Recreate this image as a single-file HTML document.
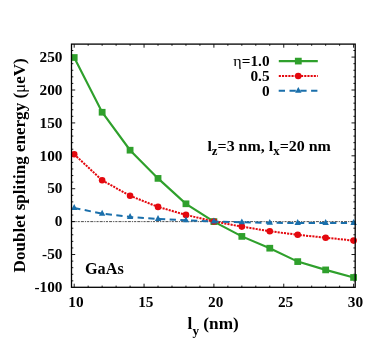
<!DOCTYPE html>
<html><head><meta charset="utf-8"><title>plot</title>
<style>html,body{margin:0;padding:0;background:#fff}svg{display:block;will-change:transform}text{font-family:"Liberation Serif",serif;font-weight:bold;fill:#000}</style></head><body>
<svg width="382" height="347" viewBox="0 0 382 347">
<rect width="382" height="347" fill="#fff"/>
<line x1="71.5" y1="221.62" x2="355.2" y2="221.62" stroke="#3a3a3a" stroke-width="0.9" stroke-dasharray="3 1 1.2 1 2.1 1.1"/>
<path d="M74.20 287.3v-3.6M74.20 44.1v3.6M88.17 287.3v-1.7M88.17 44.1v1.7M102.14 287.3v-1.7M102.14 44.1v1.7M116.11 287.3v-1.7M116.11 44.1v1.7M130.08 287.3v-1.7M130.08 44.1v1.7M144.05 287.3v-3.6M144.05 44.1v3.6M158.02 287.3v-1.7M158.02 44.1v1.7M171.99 287.3v-1.7M171.99 44.1v1.7M185.96 287.3v-1.7M185.96 44.1v1.7M199.93 287.3v-1.7M199.93 44.1v1.7M213.90 287.3v-3.6M213.90 44.1v3.6M227.87 287.3v-1.7M227.87 44.1v1.7M241.84 287.3v-1.7M241.84 44.1v1.7M255.81 287.3v-1.7M255.81 44.1v1.7M269.78 287.3v-1.7M269.78 44.1v1.7M283.75 287.3v-3.6M283.75 44.1v3.6M297.72 287.3v-1.7M297.72 44.1v1.7M311.69 287.3v-1.7M311.69 44.1v1.7M325.66 287.3v-1.7M325.66 44.1v1.7M339.63 287.3v-1.7M339.63 44.1v1.7M353.60 287.3v-3.6M353.60 44.1v3.6M71.5 280.85h1.8M355.2 280.85h-1.8M71.5 274.27h1.8M355.2 274.27h-1.8M71.5 267.69h1.8M355.2 267.69h-1.8M71.5 261.11h1.8M355.2 261.11h-1.8M71.5 254.53h3.7M355.2 254.53h-3.7M71.5 247.94h1.8M355.2 247.94h-1.8M71.5 241.36h1.8M355.2 241.36h-1.8M71.5 234.78h1.8M355.2 234.78h-1.8M71.5 228.20h1.8M355.2 228.20h-1.8M71.5 221.62h3.7M355.2 221.62h-3.7M71.5 215.04h1.8M355.2 215.04h-1.8M71.5 208.46h1.8M355.2 208.46h-1.8M71.5 201.88h1.8M355.2 201.88h-1.8M71.5 195.30h1.8M355.2 195.30h-1.8M71.5 188.72h3.7M355.2 188.72h-3.7M71.5 182.13h1.8M355.2 182.13h-1.8M71.5 175.55h1.8M355.2 175.55h-1.8M71.5 168.97h1.8M355.2 168.97h-1.8M71.5 162.39h1.8M355.2 162.39h-1.8M71.5 155.81h3.7M355.2 155.81h-3.7M71.5 149.23h1.8M355.2 149.23h-1.8M71.5 142.65h1.8M355.2 142.65h-1.8M71.5 136.07h1.8M355.2 136.07h-1.8M71.5 129.49h1.8M355.2 129.49h-1.8M71.5 122.91h3.7M355.2 122.91h-3.7M71.5 116.32h1.8M355.2 116.32h-1.8M71.5 109.74h1.8M355.2 109.74h-1.8M71.5 103.16h1.8M355.2 103.16h-1.8M71.5 96.58h1.8M355.2 96.58h-1.8M71.5 90.00h3.7M355.2 90.00h-3.7M71.5 83.42h1.8M355.2 83.42h-1.8M71.5 76.84h1.8M355.2 76.84h-1.8M71.5 70.26h1.8M355.2 70.26h-1.8M71.5 63.68h1.8M355.2 63.68h-1.8M71.5 57.09h3.7M355.2 57.09h-3.7M71.5 50.51h1.8M355.2 50.51h-1.8" stroke="#000" stroke-width="0.9" fill="none"/>
<clipPath id="c"><rect x="70.75" y="39.1" width="289.7" height="253.20000000000002"/></clipPath>
<g clip-path="url(#c)">
<polyline points="74.20,57.50 102.14,112.25 130.08,150.20 158.02,178.40 185.96,203.80 213.90,221.60 241.84,236.40 269.78,248.20 297.72,261.60 325.66,269.90 353.60,277.45" fill="none" stroke="#2fa02c" stroke-width="2.15"/>
<rect x="70.80" y="54.15" width="6.8" height="6.7" fill="#2fa02c"/>
<rect x="98.74" y="108.90" width="6.8" height="6.7" fill="#2fa02c"/>
<rect x="126.68" y="146.85" width="6.8" height="6.7" fill="#2fa02c"/>
<rect x="154.62" y="175.05" width="6.8" height="6.7" fill="#2fa02c"/>
<rect x="182.56" y="200.45" width="6.8" height="6.7" fill="#2fa02c"/>
<rect x="210.50" y="218.25" width="6.8" height="6.7" fill="#2fa02c"/>
<rect x="238.44" y="233.05" width="6.8" height="6.7" fill="#2fa02c"/>
<rect x="266.38" y="244.85" width="6.8" height="6.7" fill="#2fa02c"/>
<rect x="294.32" y="258.25" width="6.8" height="6.7" fill="#2fa02c"/>
<rect x="322.26" y="266.55" width="6.8" height="6.7" fill="#2fa02c"/>
<rect x="350.20" y="274.10" width="6.8" height="6.7" fill="#2fa02c"/>
<polyline points="74.20,154.30 102.14,180.30 130.08,195.80 158.02,206.90 185.96,214.90 213.90,221.50 241.84,226.60 269.78,231.20 297.72,234.80 325.66,237.70 353.60,240.60" fill="none" stroke="#e4080e" stroke-width="2" stroke-dasharray="2.1 1.08"/>
<circle cx="74.20" cy="154.30" r="3.3" fill="#e4080e"/>
<circle cx="102.14" cy="180.30" r="3.3" fill="#e4080e"/>
<circle cx="130.08" cy="195.80" r="3.3" fill="#e4080e"/>
<circle cx="158.02" cy="206.90" r="3.3" fill="#e4080e"/>
<circle cx="185.96" cy="214.90" r="3.3" fill="#e4080e"/>
<circle cx="213.90" cy="221.50" r="3.3" fill="#e4080e"/>
<circle cx="241.84" cy="226.60" r="3.3" fill="#e4080e"/>
<circle cx="269.78" cy="231.20" r="3.3" fill="#e4080e"/>
<circle cx="297.72" cy="234.80" r="3.3" fill="#e4080e"/>
<circle cx="325.66" cy="237.70" r="3.3" fill="#e4080e"/>
<circle cx="353.60" cy="240.60" r="3.3" fill="#e4080e"/>
<polyline points="74.20,207.90 102.14,213.70 130.08,216.90 158.02,218.90 185.96,220.30 213.90,221.50 241.84,222.30 269.78,222.80 297.72,223.00 325.66,223.00 353.60,223.00" fill="none" stroke="#1a6fab" stroke-width="2" stroke-dasharray="6.3 4.4"/>
<path d="M74.20 204.00L77.40 209.90H71.00Z" fill="#1a6fab"/>
<path d="M102.14 209.80L105.34 215.70H98.94Z" fill="#1a6fab"/>
<path d="M130.08 213.00L133.28 218.90H126.88Z" fill="#1a6fab"/>
<path d="M158.02 215.00L161.22 220.90H154.82Z" fill="#1a6fab"/>
<path d="M185.96 216.40L189.16 222.30H182.76Z" fill="#1a6fab"/>
<path d="M213.90 217.60L217.10 223.50H210.70Z" fill="#1a6fab"/>
<path d="M241.84 218.40L245.04 224.30H238.64Z" fill="#1a6fab"/>
<path d="M269.78 218.90L272.98 224.80H266.58Z" fill="#1a6fab"/>
<path d="M297.72 219.10L300.92 225.00H294.52Z" fill="#1a6fab"/>
<path d="M325.66 219.10L328.86 225.00H322.46Z" fill="#1a6fab"/>
<path d="M353.60 219.10L356.80 225.00H350.40Z" fill="#1a6fab"/>
</g>
<rect x="71.5" y="44.1" width="283.7" height="243.20000000000002" fill="none" stroke="#000" stroke-width="1.3"/>
<line x1="278.8" y1="61.1" x2="317.8" y2="61.1" stroke="#2fa02c" stroke-width="2.15"/><rect x="294.9" y="57.75" width="6.8" height="6.7" fill="#2fa02c"/>
<line x1="278.8" y1="76.0" x2="317.8" y2="76.0" stroke="#e4080e" stroke-width="2" stroke-dasharray="2.1 1.08"/><circle cx="298.2" cy="76.0" r="3.3" fill="#e4080e"/>
<line x1="278.7" y1="90.85" x2="317.8" y2="90.85" stroke="#1a6fab" stroke-width="2" stroke-dasharray="6.3 4.5"/><path d="M298.30 86.95L301.50 92.85H295.10Z" fill="#1a6fab"/>
<text transform="translate(269.6 65.9) scale(1.035 1)" font-size="14.8" text-anchor="end"><tspan font-weight="normal" font-size="15.5">η</tspan>=1.0</text>
<text transform="translate(269.6 81.2) scale(1.035 1)" font-size="14.8" text-anchor="end">0.5</text>
<text transform="translate(269.6 96.1) scale(1.035 1)" font-size="14.8" text-anchor="end">0</text>
<text transform="translate(207.4 150.6) scale(1.025 1)" font-size="15.6" text-anchor="start">l<tspan font-size="12.5" dy="4.4">z</tspan><tspan dy="-4.4">=3 nm, l</tspan><tspan font-size="12.5" dy="4.4">x</tspan><tspan dy="-4.4">=20 nm</tspan></text>
<text transform="translate(85.0 273.9) scale(1.015 1)" font-size="16" text-anchor="start">GaAs</text>
<text transform="translate(62.5 292.13) scale(1.035 1)" font-size="14.8" text-anchor="end">-100</text>
<text transform="translate(62.5 259.23) scale(1.035 1)" font-size="14.8" text-anchor="end">-50</text>
<text transform="translate(62.5 226.32) scale(1.035 1)" font-size="14.8" text-anchor="end">0</text>
<text transform="translate(62.5 193.41) scale(1.035 1)" font-size="14.8" text-anchor="end">50</text>
<text transform="translate(62.5 160.51) scale(1.035 1)" font-size="14.8" text-anchor="end">100</text>
<text transform="translate(62.5 127.61) scale(1.035 1)" font-size="14.8" text-anchor="end">150</text>
<text transform="translate(62.5 94.7) scale(1.035 1)" font-size="14.8" text-anchor="end">200</text>
<text transform="translate(62.5 61.8) scale(1.035 1)" font-size="14.8" text-anchor="end">250</text>
<text transform="translate(76.0 307.4) scale(1.035 1)" font-size="14.8" text-anchor="middle">10</text>
<text transform="translate(145.85 307.4) scale(1.035 1)" font-size="14.8" text-anchor="middle">15</text>
<text transform="translate(215.7 307.4) scale(1.035 1)" font-size="14.8" text-anchor="middle">20</text>
<text transform="translate(285.55 307.4) scale(1.035 1)" font-size="14.8" text-anchor="middle">25</text>
<text transform="translate(355.4 307.4) scale(1.035 1)" font-size="14.8" text-anchor="middle">30</text>
<text transform="translate(187.6 329.0) scale(1.015 1)" font-size="17" text-anchor="start">l<tspan font-size="13" dy="5.5">y</tspan><tspan dy="-5.5"> (nm)</tspan></text>
<text transform="translate(25.3 272.4) rotate(-90) scale(1.004 1)" font-size="17" text-anchor="start">Doublet spliting energy (<tspan font-weight="normal">μ</tspan>eV)</text>
</svg></body></html>
